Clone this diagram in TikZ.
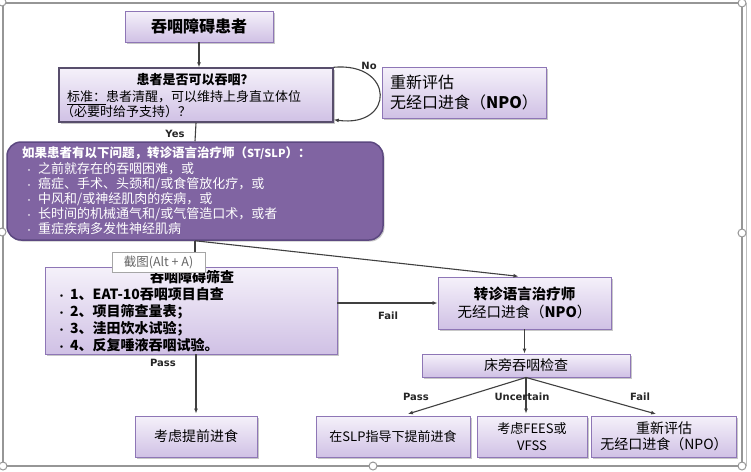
\documentclass[tikz,border=0pt]{standalone}
\usepackage{fontspec}
\setmainfont{Noto Sans CJK SC}
\newfontfamily\lblfont{DejaVu Sans}
\usetikzlibrary{shadows,arrows.meta,calc}

\definecolor{boxtop}{RGB}{245,241,250}
\definecolor{boxbot}{RGB}{208,193,229}
\definecolor{boxline}{RGB}{142,118,182}
\definecolor{qline}{RGB}{88,78,108}
\definecolor{purplefill}{RGB}{128,100,162}
\definecolor{purpleline}{RGB}{92,72,128}
\definecolor{arrowcol}{RGB}{64,64,64}
\definecolor{framecol}{RGB}{150,150,150}

\begin{document}
\begin{tikzpicture}[x=1pt,y=-1pt,
  box/.style={draw=boxline, line width=0.9pt, top color=boxtop, bottom color=boxbot,
    drop shadow={shadow xshift=1.5pt,shadow yshift=-1.5pt,opacity=0.3,fill=black!70},
    inner sep=0pt, align=center},
  conn/.style={draw=arrowcol, line width=1.1pt, -{Latex[length=5pt,width=4pt]}},
  plainline/.style={draw=arrowcol, line width=1.1pt},
  lbl/.style={font=\lblfont\bfseries\fontsize{10}{12}\selectfont, text=black!85, inner sep=1pt},
  wtext/.style={text=white, inner sep=0pt, anchor=west, font=\fontsize{13}{15}\selectfont},
  stext/.style={inner sep=0pt, anchor=west, font=\fontsize{14}{16}\selectfont\bfseries},
  handle/.style={circle, draw=framecol, fill=white, line width=1pt, minimum size=8pt, inner sep=0pt},
]
\useasboundingbox (0,0) rectangle (751,471);
\fill[white] (0,0) rectangle (751,471);

% frame
\draw[framecol, line width=1.2pt] (3,3) rectangle (742,466);
\draw[black!25, line width=1pt] (746,3) -- (746,466);

% title
\node[box, minimum width=148pt, minimum height=31pt, font=\fontsize{16}{18}\selectfont\bfseries] (title) at (199,26.5) {吞咽障碍患者};

% question
\node[box, draw=qline, line width=1.5pt, minimum width=274pt, minimum height=54pt] (q) at (196,95) {};
\node[inner sep=0pt, font=\fontsize{13}{15}\selectfont\bfseries] (qt1) at (195,80) {患者是否可以吞咽？};
\node[inner sep=0pt, anchor=west, font=\fontsize{13}{15}\selectfont] (qt2) at (67,98) {\underline{标准：}患者清醒，可以维持上身直立体位};
\node[inner sep=0pt, anchor=west, font=\fontsize{13}{15}\selectfont] (qt3) at (61,112) {（必要时给予支持）？};

% re-evaluate
\node[box, minimum width=164pt, minimum height=51pt, font=\fontsize{16}{20}\selectfont, align=left] (npo1) at (464,92.5) {重新评估\\无经口进食（\textbf{NPO}）};

% purple box
\node[draw=purpleline, line width=1.5pt, fill=purplefill, rounded corners=14pt,
  minimum width=376pt, minimum height=98pt,
  drop shadow={shadow xshift=1.5pt,shadow yshift=-1.5pt,opacity=0.3,fill=black!70}] (purple) at (195,191) {};
\node[wtext, font=\fontsize{12.5}{15}\selectfont\bfseries] (ph) at (22,153) {如果患者有以下问题，转诊语言治疗师（{\fontsize{11}{13}\selectfont ST/SLP}）：};
\node[wtext] (p1) at (25,169) {\makebox[13pt][l]{\fontsize{8}{8}\selectfont•}之前就存在的吞咽困难，或};
\node[wtext] (p2) at (25,184) {\makebox[13pt][l]{\fontsize{8}{8}\selectfont•}癌症、手术、头颈和/或食管放化疗，或};
\node[wtext] (p3) at (25,199) {\makebox[13pt][l]{\fontsize{8}{8}\selectfont•}中风和/或神经肌肉的疾病，或};
\node[wtext] (p4) at (25,214) {\makebox[13pt][l]{\fontsize{8}{8}\selectfont•}长时间的机械通气和/或气管造口术，或者};
\node[wtext] (p5) at (25,229) {\makebox[13pt][l]{\fontsize{8}{8}\selectfont•}重症疾病多发性神经肌病};

% screening
\node[box, minimum width=292pt, minimum height=87pt] (screen) at (191,310.5) {};
\node[inner sep=0pt, font=\fontsize{14}{16}\selectfont\bfseries] (st) at (192,277) {吞咽障碍筛查};
\node[stext] (s1) at (57,294) {\makebox[13pt][l]{\fontsize{9}{9}\selectfont•}1、EAT-10吞咽项目自查};
\node[stext] (s2) at (57,311.5) {\makebox[13pt][l]{\fontsize{9}{9}\selectfont•}2、项目筛查量表；};
\node[stext] (s3) at (57,328.5) {\makebox[13pt][l]{\fontsize{9}{9}\selectfont•}3、洼田饮水试验；};
\node[stext] (s4) at (57,345.5) {\makebox[13pt][l]{\fontsize{9}{9}\selectfont•}4、反复唾液吞咽试验。};

% refer
\node[box, minimum width=173pt, minimum height=52pt, font=\fontsize{14.5}{18}\selectfont] (refer) at (524.5,303) {\textbf{转诊语言治疗师}\\无经口进食（\textbf{NPO}）};

% bedside
\node[box, minimum width=208pt, minimum height=23pt, font=\fontsize{14}{16}\selectfont] (bed) at (526,365.5) {床旁吞咽检查};

% bottom row
\node[box, minimum width=122pt, minimum height=41pt, font=\fontsize{14}{16}\selectfont] (eat) at (196,436.5) {考虑提前进食};
\node[box, minimum width=154pt, minimum height=41pt, font=\fontsize{13}{16}\selectfont] (slp) at (393,436.5) {在SLP指导下提前进食};
\node[box, minimum width=110pt, minimum height=41pt, font=\fontsize{13}{17}\selectfont] (fees) at (532,436.5) {考虑FEES或\\VFSS};
\node[box, minimum width=145pt, minimum height=41pt, font=\fontsize{14}{16.5}\selectfont] (npo2) at (664,436.5) {重新评估\\无经口进食（NPO）};

% connectors
\draw[conn] (title.south) -- (title.south |- q.north);
\draw[conn] (q.north east) .. controls (395,62) and (395,128) .. ([yshift=3pt]q.south east);
\draw[plainline] (q.south) -- (purple.north);
\coordinate (split) at (purple.south);
\draw[conn] (split) -- (split |- screen.north);
\draw[conn, shorten >=2pt] (split) -- ([xshift=-4pt]refer.north);
\draw[conn] (screen.east |- refer.west) -- (refer.west);
\draw[conn] (refer.south) -- (refer.south |- bed.north);
\draw[conn, shorten >=2pt] (eat.north |- screen.south) -- (eat.north);
\draw[conn, shorten >=2pt] (bed.south) -- ($(slp.north)+(13,-1)$);
\draw[conn, shorten >=2pt] (bed.south) -- (bed.south |- fees.north);
\draw[conn, shorten >=2pt] (bed.south) -- ($(npo2.north)+(-6,-1)$);

% labels
\node[lbl] (lno) at (369,66) {No};
\node[lbl] (lyes) at (175,134) {Yes};
\node[lbl] (lfail1) at (388,316) {Fail};
\node[lbl] (lpass1) at (163,363) {Pass};
\node[lbl] (lpass2) at (416,397) {Pass};
\node[lbl] (lunc) at (522,397) {Uncertain};
\node[lbl] (lfail2) at (640,397) {Fail};

% tooltip overlay
\node[draw=black!35, fill=white, line width=0.6pt, minimum width=93pt, minimum height=20pt,
  inner sep=0pt, font=\fontsize{12.5}{14}\selectfont, text=black!60] (tip) at (158.5,262) {截图(Alt + A)};

% frame handles
\node[handle] (h1) at (2,2) {};
\node[handle] (h2) at (742,3) {};
\node[handle] (h3) at (742,233) {};
\node[handle] (h4) at (2,232) {};
\node[handle] (h5) at (373,466) {};
\node[handle] (h6) at (742,466) {};
\node[handle] (h7) at (3,466) {};
\end{tikzpicture}
\end{document}
